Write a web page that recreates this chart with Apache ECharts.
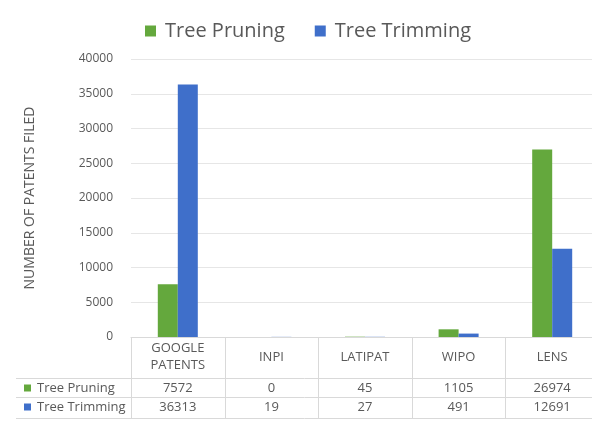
<!DOCTYPE html>
<html>
<head>
<meta charset="utf-8">
<script src="https://cdn.jsdelivr.net/npm/echarts@6/dist/echarts.min.js"></script>
<style>
  html, body { margin: 0; padding: 0; background: #fff; }
  #chart { width: 592px; height: 421px; }
</style>
</head>
<body>
<div id="chart"></div>
<script>
// data
const categories = ['GOOGLE\nPATENTS', 'INPI', 'LATIPAT', 'WIPO', 'LENS'];
const seriesNames = ['Tree Pruning', 'Tree Trimming'];
const pruning = [7572, 0, 45, 1105, 26974];
const trimming = [36313, 19, 27, 491, 12691];
const seriesColors = ['#64a83d', '#3f6fca'];
const yMin = 0, yMax = 40000, yStep = 5000;

const textColor = '#595959';
const lineColor = '#d9d9d9';
const fontFamily = '"Open Sans", "Noto Sans", sans-serif';

const chart = echarts.init(document.getElementById('chart'));

const option = {
    animation: false,
    textStyle: { fontFamily: fontFamily },
    legend: {
        top: 16,
        left: 140,
        itemWidth: 11,
        itemHeight: 11,
        itemGap: 30,
        icon: 'rect',
        textStyle: { fontSize: 20, color: textColor, fontFamily: fontFamily, padding: [0, 0, 0, 4] }
    },
    grid: {
        left: 131,
        width: 468,
        top: 59,
        height: 278,
        outerBoundsMode: 'none'
    },
    xAxis: {
        type: 'category',
        data: categories,
        axisLine: { lineStyle: { color: lineColor } },
        axisTick: { show: false },
        axisLabel: { show: false }
    },
    yAxis: {
        type: 'value',
        min: yMin,
        max: yMax,
        interval: yStep,
        name: 'NUMBER OF PATENTS FILED',
        nameLocation: 'middle',
        nameGap: 94,
        nameTextStyle: { fontSize: 14, color: textColor },
        axisLine: { show: false },
        axisTick: { show: false },
        axisLabel: { fontSize: 12, color: textColor, margin: 18, formatter: v => String(v) },
        splitLine: { lineStyle: { color: '#e6e6e6' } }
    },
    series: [
        {
            name: seriesNames[0],
            type: 'bar',
            data: pruning,
            barWidth: 20,
            barGap: '0%',
            itemStyle: { color: seriesColors[0] }
        },
        {
            name: seriesNames[1],
            type: 'bar',
            data: trimming,
            barWidth: 20,
            barGap: '0%',
            itemStyle: { color: seriesColors[1] }
        }
    ]
};

chart.setOption(option);

// data table under the plot, like the spreadsheet chart
function buildTable() {
    const centers = categories.map((c, i) => chart.convertToPixel({ xAxisIndex: 0 }, i));
    const colW = centers.length > 1 ? centers[1] - centers[0] : 90;
    const tableLeft = centers[0] - colW / 2;
    const tableRight = centers[centers.length - 1] + colW / 2;
    const top = chart.convertToPixel({ yAxisIndex: 0 }, 0);
    const rowLines = [top + 41, top + 60, top + 81];
    const headerY = top + 20;
    const rowY = [top + 51, top + 70];
    const labelLeft = 16;
    const rows = [pruning, trimming];
    const font = '13px ' + fontFamily;

    const els = [];
    // vertical lines
    for (let i = 0; i <= categories.length; i++) {
        const x = Math.round(tableLeft + i * colW) + 0.5;
        els.push({
            type: 'line',
            shape: { x1: x, y1: top, x2: x, y2: rowLines[2] },
            style: { stroke: lineColor, lineWidth: 1 }
        });
    }
    // horizontal lines
    rowLines.forEach(y => {
        els.push({
            type: 'line',
            shape: { x1: labelLeft, y1: Math.round(y) + 0.5, x2: tableRight, y2: Math.round(y) + 0.5 },
            style: { stroke: lineColor, lineWidth: 1 }
        });
    });
    // header row
    categories.forEach((c, i) => {
        els.push({
            type: 'text',
            x: centers[i],
            y: headerY,
            style: {
                text: c, fill: textColor, font: font,
                align: 'center', verticalAlign: 'middle', lineHeight: 17
            }
        });
    });
    // value rows with keys
    rows.forEach((vals, r) => {
        els.push({
            type: 'rect',
            shape: { x: 24, y: rowY[r] - 3.5, width: 7, height: 7 },
            style: { fill: seriesColors[r] }
        });
        els.push({
            type: 'text',
            x: 37,
            y: rowY[r],
            style: {
                text: seriesNames[r], fill: textColor, font: font,
                align: 'left', verticalAlign: 'middle'
            }
        });
        vals.forEach((v, i) => {
            els.push({
                type: 'text',
                x: centers[i],
                y: rowY[r],
                style: {
                    text: String(v), fill: textColor, font: font,
                    align: 'center', verticalAlign: 'middle'
                }
            });
        });
    });

    chart.setOption({ graphic: { elements: els } });
}

buildTable();
</script>
</body>
</html>
